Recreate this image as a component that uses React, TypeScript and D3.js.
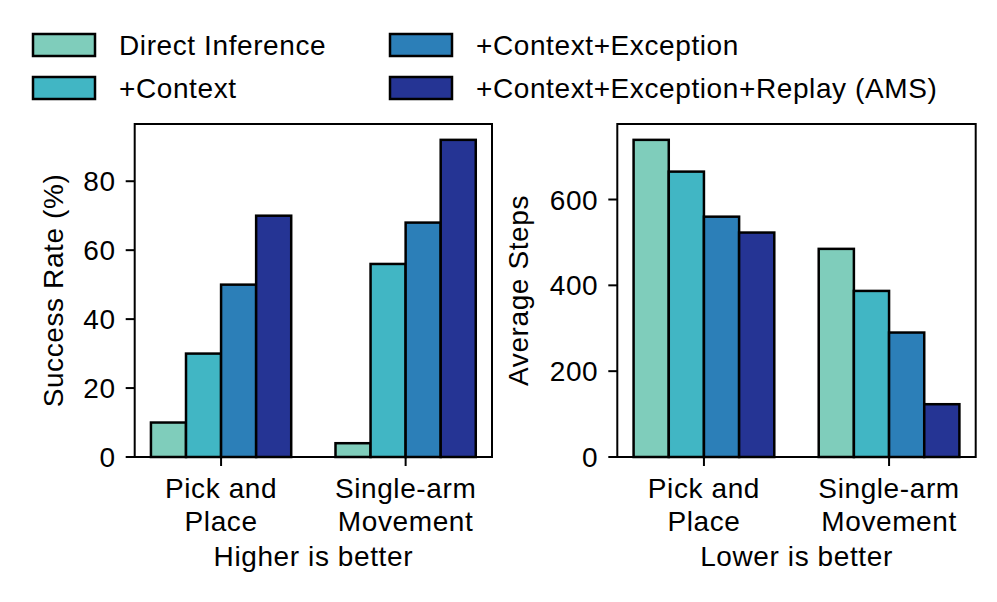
import React from 'react';
import * as d3 from 'd3';

const methods = ['Direct Inference', '+Context', '+Context+Exception', '+Context+Exception+Replay (AMS)'];
const colors = ['#7fcdbb', '#41b6c4', '#2c7fb8', '#253494'];
const tasks = [['Pick and', 'Place'], ['Single-arm', 'Movement']];

// values per task, one per method
const successRate = [[10, 30, 50, 70], [4, 56, 68, 92]];
const avgSteps = [[739, 665, 560, 523], [485, 387, 290, 123]];

const successTicks = [0, 20, 40, 60, 80];
const stepTicks = [0, 200, 400, 600];

const FONT = '"Liberation Sans", Arial, Helvetica, sans-serif';
const FS = 28;
const LS = 0.6;

const barW = 0.19;

type PanelProps = {
  left: number;
  right: number;
  values: number[][];
  ticks: number[];
  ylabel: string;
  ylabelX: number;
  note: string;
};

function Panel({ left, right, values, ticks, ylabel, ylabelX, note }: PanelProps) {
  const top = 124;
  const bottom = 457;
  const maxV = d3.max(values.flat()) ?? 1;
  const y = d3.scaleLinear().domain([0, maxV * 1.05]).range([bottom, top]);
  const half = (values[0].length * barW) / 2;
  const pad = (1 + 2 * half) * 0.05;
  const x = d3.scaleLinear().domain([-half - pad, 1 + half + pad]).range([left, right]);
  const bw = x(barW) - x(0);

  return (
    <g>
      {values.map((grp, gi) =>
        grp.map((v, mi) => {
          const cx = gi + (mi - (grp.length - 1) / 2) * barW;
          return (
            <rect
              key={`${gi}-${mi}`}
              x={x(cx) - bw / 2}
              y={y(v)}
              width={bw}
              height={y(0) - y(v)}
              fill={colors[mi]}
              stroke="#000"
              strokeWidth={2.5}
            />
          );
        })
      )}
      <rect x={left} y={top} width={right - left} height={bottom - top} fill="none" stroke="#000" strokeWidth={2} />
      {ticks.map((t) => (
        <g key={t}>
          <line x1={left - 9} x2={left} y1={y(t)} y2={y(t)} stroke="#000" strokeWidth={2} />
          <text x={left - 19} y={y(t)} dy="0.36em" textAnchor="end" fontSize={FS} letterSpacing={LS}>
            {t}
          </text>
        </g>
      ))}
      {tasks.map((lines, gi) => (
        <g key={gi}>
          <line x1={x(gi)} x2={x(gi)} y1={bottom} y2={bottom + 9} stroke="#000" strokeWidth={2} />
          <text x={x(gi)} y={498} textAnchor="middle" fontSize={FS} letterSpacing={LS}>
            {lines.map((l, li) => (
              <tspan key={li} x={x(gi)} dy={li === 0 ? 0 : 33}>
                {l}
              </tspan>
            ))}
          </text>
        </g>
      ))}
      <text
        transform={`translate(${ylabelX},${(top + bottom) / 2}) rotate(-90)`}
        textAnchor="middle"
        fontSize={FS}
        letterSpacing={LS}
      >
        {ylabel}
      </text>
      <text x={(left + right) / 2} y={566} textAnchor="middle" fontSize={FS} letterSpacing={LS}>
        {note}
      </text>
    </g>
  );
}

export default function App() {
  const legendPos = [
    [33, 34],
    [33, 77],
    [390, 34],
    [390, 77],
  ];
  return (
    <svg
      width={997}
      height={602}
      style={{ position: 'absolute', left: 0, top: 0, background: '#fff' }}
      fontFamily={FONT}
    >
      {methods.map((m, i) => (
        <g key={m} transform={`translate(${legendPos[i][0]},${legendPos[i][1]})`}>
          <rect width={62} height={22} fill={colors[i]} stroke="#000" strokeWidth={2.5} />
          <text x={86} y={11} dy="0.36em" fontSize={FS} letterSpacing={LS}>
            {m}
          </text>
        </g>
      ))}
      <Panel
        left={134.7}
        right={492}
        values={successRate}
        ticks={successTicks}
        ylabel="Success Rate (%)"
        ylabelX={63}
        note="Higher is better"
      />
      <Panel
        left={617.3}
        right={975.7}
        values={avgSteps}
        ticks={stepTicks}
        ylabel="Average Steps"
        ylabelX={528}
        note="Lower is better"
      />
    </svg>
  );
}
